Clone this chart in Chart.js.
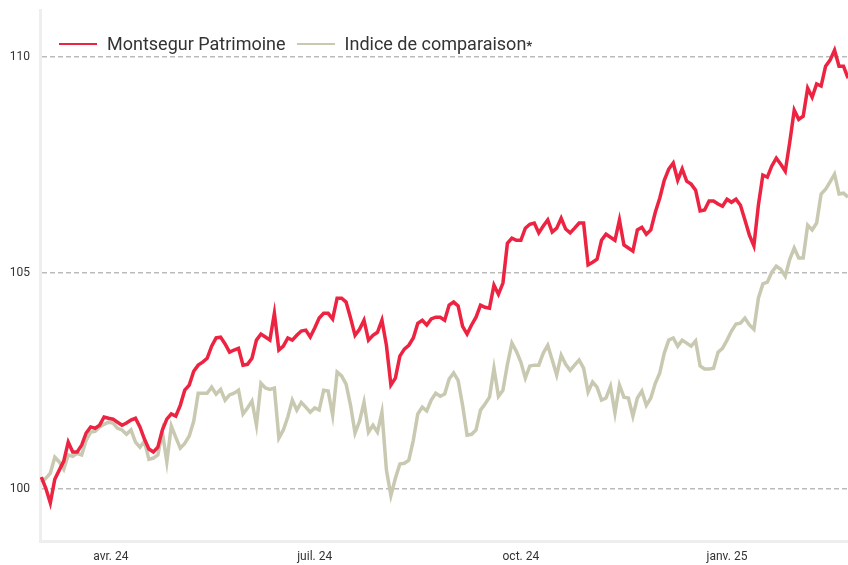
<!DOCTYPE html>
<html lang="fr">
<head>
  <meta charset="UTF-8">
  <title>Montsegur Patrimoine</title>
  <style>
    html, body { margin: 0; padding: 0; background: #fff; }
    .wrap { position: relative; width: 848px; height: 565px; }
    .legend {
      position: absolute; left: 59px; top: 33px;
      display: flex; align-items: center;
      font-family: Roboto, "Noto Sans", sans-serif; font-size: 18px; color: #333;
    }
    .legend span.sw { display: inline-block; width: 38px; height: 2px; margin-right: 10px; }
    .legend span.lab { margin-right: 11px; }
  </style>
</head>
<body>
  <div class="wrap">
    <canvas id="perfChart" width="848" height="565"></canvas>
    <div class="legend">
      <span class="sw" style="background:#ec2341"></span><span class="lab">Montsegur Patrimoine</span>
      <span class="sw" style="background:#c9c9b1"></span><span class="lab">Indice de comparaison<b style="font-size:13px">*</b></span>
    </div>
  </div>

  <script src="https://cdn.jsdelivr.net/npm/chart.js"></script>
  <script>
    // one point every 2 calendar days, starting 1 March 2024
    const stepDays = 2;

    const fundValues = [
      100.28, 100.02, 99.68, 100.23, 100.44, 100.65, 101.09, 100.86, 100.86, 101.02,
      101.30, 101.44, 101.41, 101.48, 101.67, 101.64, 101.62, 101.55, 101.48, 101.53,
      101.60, 101.64, 101.44, 101.16, 100.93, 100.86, 100.97, 101.37, 101.62, 101.74,
      101.69, 101.94, 102.29, 102.41, 102.73, 102.87, 102.94, 103.03, 103.31, 103.50,
      103.52, 103.36, 103.17, 103.22, 103.26, 102.87, 102.89, 103.03, 103.45, 103.59,
      103.52, 103.45, 104.07, 103.22, 103.31, 103.50, 103.45, 103.56, 103.66, 103.68,
      103.52, 103.73, 103.96, 104.07, 104.07, 103.94, 104.42, 104.42, 104.33, 103.96,
      103.56, 103.70, 103.91, 103.45, 103.56, 103.63, 103.91, 103.33, 102.41, 102.57,
      103.08, 103.24, 103.33, 103.50, 103.84, 103.91, 103.80, 103.94, 103.98, 103.98,
      103.91, 104.26, 104.33, 104.24, 103.77, 103.59, 103.80, 103.98, 104.26, 104.21,
      104.19, 104.72, 104.51, 104.77, 105.69, 105.81, 105.76, 105.76, 106.04, 106.13,
      106.16, 105.93, 106.09, 106.23, 105.95, 106.04, 106.27, 106.02, 105.93, 106.04,
      106.16, 106.16, 105.19, 105.25, 105.32, 105.76, 105.90, 105.83, 105.76, 106.23,
      105.65, 105.58, 105.51, 106.00, 106.06, 105.90, 106.00, 106.41, 106.74, 107.15,
      107.41, 107.55, 107.15, 107.41, 107.13, 107.06, 106.92, 106.44, 106.46, 106.67,
      106.67, 106.60, 106.55, 106.71, 106.64, 106.71, 106.57, 106.23, 105.88, 105.63,
      106.57, 107.27, 107.22, 107.48, 107.66, 107.52, 107.36, 108.03, 108.77, 108.56,
      108.63, 109.28, 109.07, 109.38, 109.33, 109.79, 109.93, 110.16, 109.79, 109.79,
      109.51
    ];

    const indexValues = [
      100.16, 100.25, 100.37, 100.74, 100.63, 100.46, 100.79, 100.76, 100.83, 100.79,
      101.13, 101.32, 101.34, 101.44, 101.50, 101.55, 101.53, 101.41, 101.37, 101.27,
      101.37, 101.09, 100.97, 101.11, 100.69, 100.72, 100.79, 101.32, 100.63, 101.46,
      101.20, 100.95, 101.06, 101.23, 101.57, 102.22, 102.22, 102.22, 102.36, 102.20,
      102.31, 102.06, 102.18, 102.22, 102.29, 101.74, 101.88, 102.04, 101.48, 102.45,
      102.34, 102.31, 102.34, 101.18, 101.37, 101.67, 102.06, 101.83, 102.01, 101.90,
      101.78, 101.88, 101.83, 102.29, 102.27, 101.71, 102.71, 102.62, 102.43, 101.94,
      101.30, 101.57, 102.01, 101.32, 101.48, 101.32, 101.78, 100.44, 99.85, 100.25,
      100.58, 100.60, 100.67, 101.13, 101.74, 101.90, 101.81, 102.06, 102.22, 102.15,
      102.20, 102.55, 102.69, 102.52, 101.94, 101.25, 101.27, 101.37, 101.83, 101.97,
      102.13, 102.80, 102.15, 102.29, 102.89, 103.38, 103.19, 102.94, 102.57, 102.85,
      102.87, 102.87, 103.15, 103.33, 102.99, 102.64, 103.10, 102.89, 102.75, 102.87,
      102.99, 102.80, 102.25, 102.48, 102.36, 102.06, 102.11, 102.38, 101.76, 102.41,
      102.13, 102.11, 101.69, 102.11, 102.27, 101.94, 102.11, 102.45, 102.69, 103.15,
      103.45, 103.50, 103.31, 103.45, 103.38, 103.31, 103.43, 102.85, 102.78, 102.78,
      102.80, 103.17, 103.26, 103.45, 103.66, 103.82, 103.84, 103.96, 103.80, 103.70,
      104.42, 104.75, 104.79, 105.02, 105.16, 105.09, 104.93, 105.32, 105.58, 105.35,
      105.35, 106.11, 106.00, 106.16, 106.83, 106.94, 107.11, 107.29, 106.83, 106.85,
      106.76
    ];

    // x tick positions (days since 1 March 2024) and their labels
    const xTickDays = [31, 122, 214, 306];
    const xTickLabels = ["avr. 24", "juil. 24", "oct. 24", "janv. 25"];
    const yTickValues = [100, 105, 110];

    const toPoints = vals => vals.map((v, i) => ({ x: i * stepDays, y: v }));

    const ctx = document.getElementById("perfChart").getContext("2d");
    new Chart(ctx, {
      type: "line",
      data: {
        datasets: [
          {
            label: "Montsegur Patrimoine",
            data: toPoints(fundValues),
            borderColor: "#ec2341",
            borderWidth: 3.5,
            pointRadius: 0,
            tension: 0,
            fill: false
          },
          {
            label: "Indice de comparaison*",
            data: toPoints(indexValues),
            borderColor: "#c9c9b1",
            borderWidth: 3.5,
            pointRadius: 0,
            tension: 0,
            fill: false
          }
        ]
      },
      options: {
        responsive: false,
        animation: false,
        layout: { padding: { top: 10, right: 0, left: 0, bottom: 0 } },
        plugins: { legend: { display: false }, tooltip: { enabled: false } },
        scales: {
          x: {
            type: "linear",
            min: -0.6,
            max: 360,
            grid: { display: false, drawTicks: false },
            border: { display: true, color: "#eeeeee", width: 3 },
            afterBuildTicks: s => { s.ticks = xTickDays.map(v => ({ value: v })); },
            afterFit: s => { s.height = 24; s.paddingLeft = 0; s.paddingRight = 0; },
            ticks: {
              padding: 9,
              maxRotation: 0,
              autoSkip: false,
              color: "#333",
              font: { family: "Roboto", size: 12 },
              callback: v => xTickLabels[xTickDays.indexOf(v)]
            }
          },
          y: {
            min: 98.8,
            max: 111.09,
            grid: { color: "#bbbbbb", lineWidth: 1.5, drawTicks: false },
            border: { display: true, color: "#eeeeee", width: 3, dash: [5, 3] },
            afterBuildTicks: s => { s.ticks = yTickValues.map(v => ({ value: v })); },
            afterFit: s => { s.width = 40; s.paddingTop = 0; s.paddingBottom = 0; },
            ticks: {
              padding: 10,
              color: "#333",
              font: { family: "Roboto", size: 12 }
            }
          }
        }
      }
    });
  </script>
</body>
</html>
